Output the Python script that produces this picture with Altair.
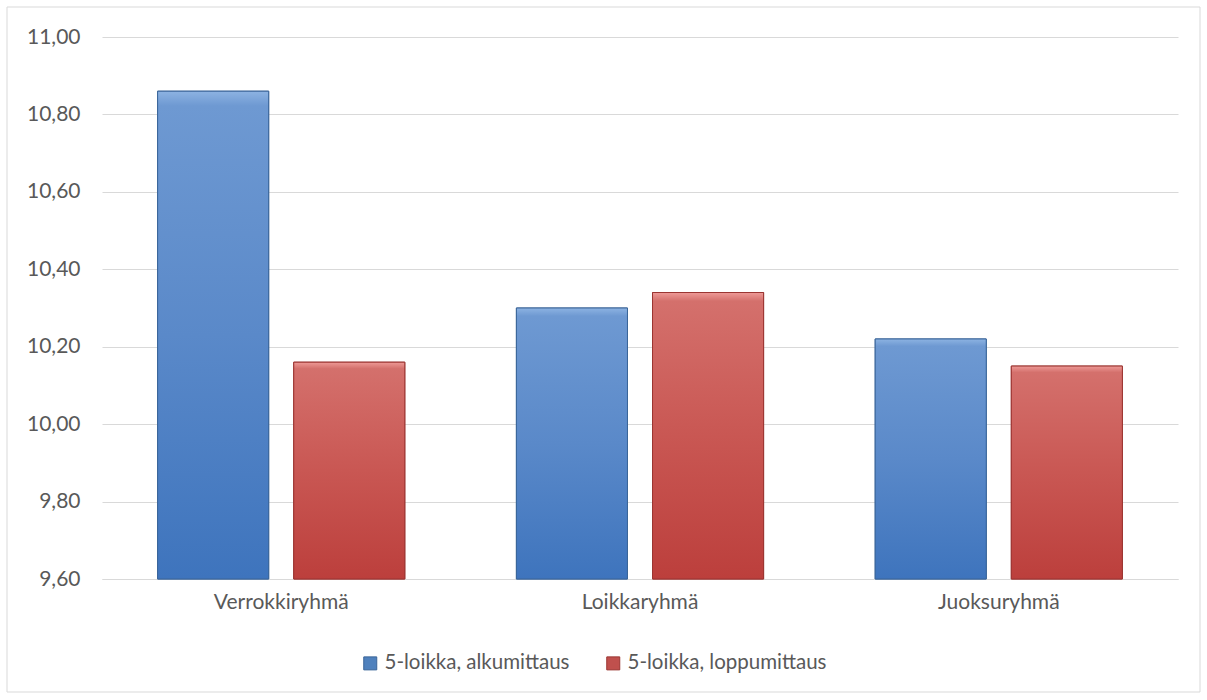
import altair as alt
import pandas as pd

groups = ["Verrokkiryhmä", "Loikkaryhmä", "Juoksuryhmä"]
series = ["5-loikka, alkumittaus", "5-loikka, loppumittaus"]
alku = [10.86, 10.30, 10.22]
loppu = [10.16, 10.34, 10.15]
y_ticks = [9.6, 9.8, 10.0, 10.2, 10.4, 10.6, 10.8, 11.0]

rows = []
for g, a, l in zip(groups, alku, loppu):
    rows.append({"ryhma": g, "sarja": series[0], "arvo": a})
    rows.append({"ryhma": g, "sarja": series[1], "arvo": l})
df = pd.DataFrame(rows)

FONT = "Lato"
TXT = "#595959"
GRID = "#D9D9D9"

x_enc = alt.X("ryhma:N", sort=groups, title=None,
              scale=alt.Scale(paddingInner=0.311, paddingOuter=0.155),
              axis=alt.Axis(labelAngle=0, labelFontSize=21, labelColor=TXT, labelFont=FONT,
                            labelPadding=12, ticks=False, domainColor=GRID, domainWidth=1.2))
xo_enc = alt.XOffset("sarja:N", sort=series,
                     scale=alt.Scale(domain=series, paddingInner=0.184, paddingOuter=0))
y_enc = alt.Y("arvo:Q", title=None,
              scale=alt.Scale(domain=[9.6, 11.0], zero=False, nice=False),
              axis=alt.Axis(values=y_ticks, labelFontSize=21, labelColor=TXT, labelFont=FONT,
                            labelPadding=22, ticks=False, domain=False, gridColor=GRID,
                            gridWidth=1.2,
                            labelExpr="replace(format(datum.value, '.2f'), '.', ',')"))

base = alt.Chart(df).mark_bar(strokeWidth=1).encode(
    x=x_enc, xOffset=xo_enc, y=y_enc, y2=alt.datum(9.6),
    color=alt.Color("sarja:N", sort=series, title=None,
                    scale=alt.Scale(domain=series, range=["#4F81BD", "#C0504D"]),
                    legend=alt.Legend(orient="none", direction="horizontal", legendX=258,
                                      legendY=616, symbolType="square", symbolSize=169,
                                      symbolStrokeWidth=1, labelFontSize=20.5, labelColor=TXT,
                                      labelFont=FONT, columnPadding=33, labelOffset=4,
                                      labelLimit=0)),
    stroke=alt.Stroke("sarja:N", sort=series, legend=None,
                      scale=alt.Scale(domain=series, range=["#3A6599", "#9B3532"])),
)

blue_grad = alt.LinearGradient(gradient="linear", x1=0, y1=0, x2=0, y2=1, stops=[
    alt.GradientStop(offset=0, color="#8DB3E2"),
    alt.GradientStop(offset=0.03, color="#6E99D2"),
    alt.GradientStop(offset=0.5, color="#5A89C9"),
    alt.GradientStop(offset=1, color="#3E74BD")])
red_grad = alt.LinearGradient(gradient="linear", x1=0, y1=0, x2=0, y2=1, stops=[
    alt.GradientStop(offset=0, color="#EE9A97"),
    alt.GradientStop(offset=0.03, color="#D4706C"),
    alt.GradientStop(offset=0.5, color="#C95753"),
    alt.GradientStop(offset=1, color="#BC3F3C")])

def grad_layer(name, grad, stroke):
    return alt.Chart(df).transform_filter(alt.datum.sarja == name).mark_bar(
        fill=grad, stroke=stroke, strokeWidth=1).encode(
        x=x_enc, xOffset=xo_enc, y=y_enc, y2=alt.datum(9.6))

frame = alt.Chart(alt.Data(values=[{}])).mark_rect(
    fill=None, stroke=GRID, strokeWidth=1).encode(
    x=alt.value(-95), x2=alt.value(1098), y=alt.value(-30), y2=alt.value(655))

chart = alt.layer(
    base,
    grad_layer(series[0], blue_grad, "#3A6599"),
    grad_layer(series[1], red_grad, "#9B3532"),
    frame,
).properties(
    width=1076, height=542,
    autosize=alt.AutoSizeParams(type="none"),
    padding={"left": 102, "top": 37, "right": 29, "bottom": 121},
    background="white",
).configure_view(stroke=None)

chart.save("out.html", embed_options={"renderer": "svg", "actions": False})
